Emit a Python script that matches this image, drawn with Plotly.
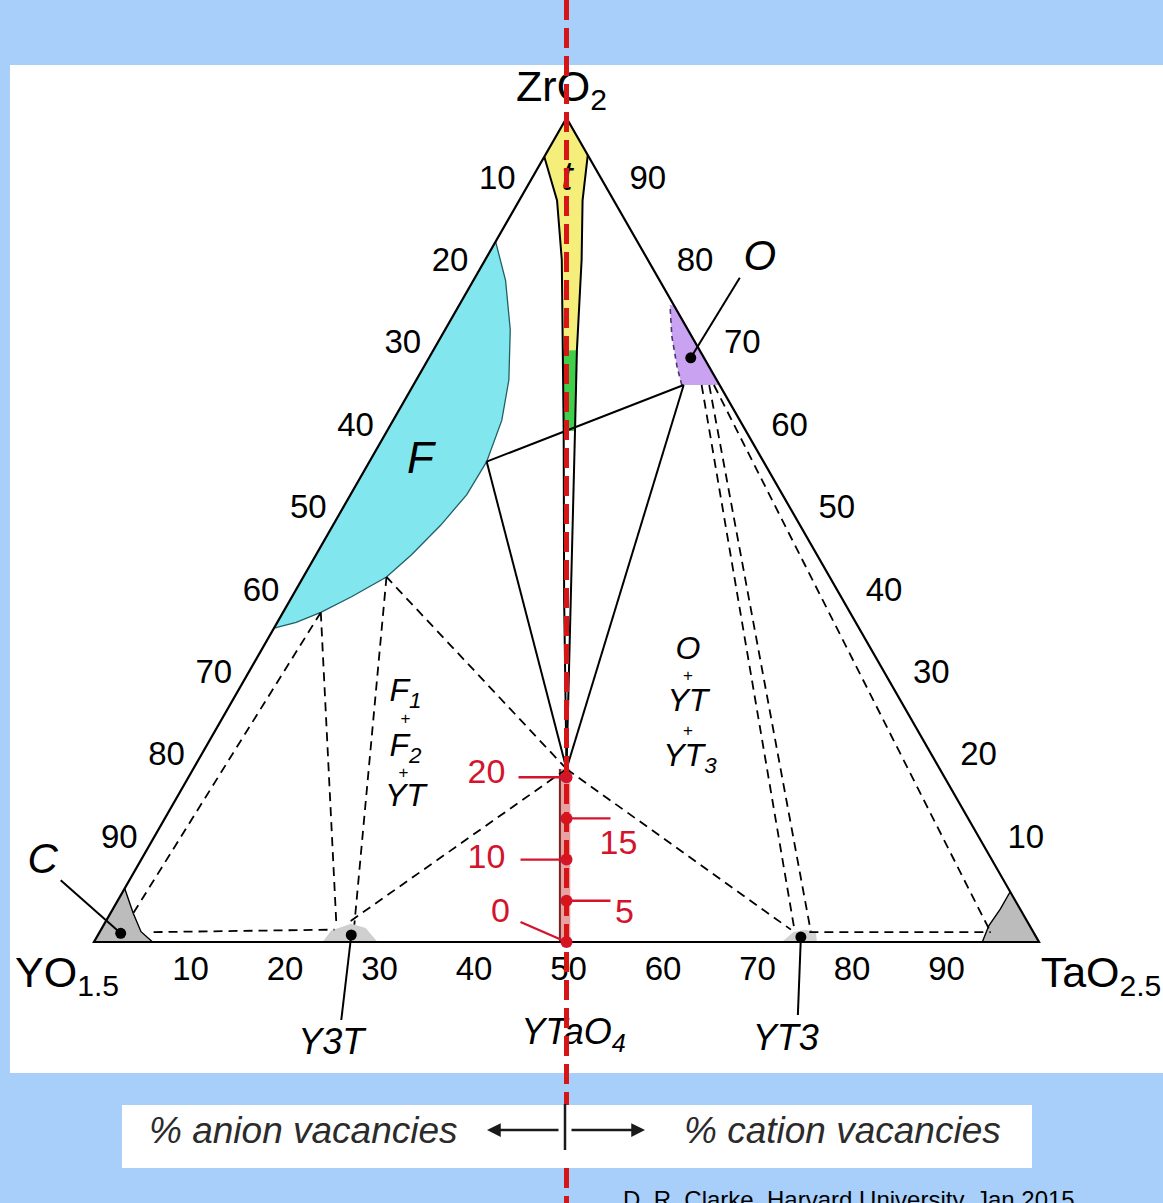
import plotly.graph_objects as go

FONT = "Liberation Sans, Arial, sans-serif"

# ---------------------------------------------------------------- frame
W, H = 1163, 1203
PX_X, PX_Y = 9.45, 8.24          # pixels per mol% along the base / per mol% ZrO2 upward
X0_PX, Y0_PX = 94.0, 942.0       # pixel position of the YO1.5 corner
X_RANGE = [-X0_PX / PX_X, (W - X0_PX) / PX_X]
Y_RANGE = [-(H - Y0_PX) / PX_Y, Y0_PX / PX_Y]
BOX_TOP_PX, BOX_BOTTOM_PX = 1105, 1168   # legend strip below the diagram

# ---------------------------------------------------------------- data
# compositions are (mol% ZrO2, mol% TaO2.5); YO1.5 is the balance
TICKS = [10, 20, 30, 40, 50, 60, 70, 80, 90]
VACANCY_PCT = [0, 5, 10, 15, 20]

# fluorite (F) single-phase field, boundary from the ZrO2-rich tip down
F_ZR = [85.0, 80.3, 74.3, 68.2, 63.3, 58.3, 54.3, 50.6, 47.0, 44.3, 41.9, 40.0, 38.8, 38.1]
F_TA = [0.0, 3.4, 6.9, 9.8, 11.5, 12.4, 12.3, 11.4, 10.1, 8.8, 6.3, 4.0, 2.0, 0.0]

# tetragonal (t) band along the ZrO2 - YTaO4 join
T_LEFT_ZR = [95.3, 90.0, 82.8, 71.8, 62.0, 41.5, 21.0]
T_LEFT_TA = [0.0, 4.0, 8.1, 13.7, 18.7, 29.0, 39.5]
T_RIGHT_ZR = [95.5, 90.0, 82.8, 71.8, 62.0, 41.5, 21.0]
T_RIGHT_TA = [4.5, 6.7, 10.2, 15.2, 19.9, 29.7, 39.5]

# YTaO4 solid solution (0-20 % vacancies)
YTAO4_ZR = [21.0, 0.0, 0.0, 21.0]
YTAO4_TA = [38.8, 49.3, 50.4, 39.9]

# orthorhombic (O) field next to the ZrO2-TaO2.5 edge
O_ZR = [77.3, 67.6, 67.6, 69.8, 73.5, 77.3]
O_TA = [22.7, 32.4, 28.4, 26.8, 24.4, 22.3]

# corner / line-compound fields
C_ZR = [0.0, 6.5, 3.5, 1.25, 0.0]
C_TA = [0.0, 0.0, 2.4, 4.35, 6.2]
TAC_ZR = [0.0, 6.1, 4.0, 2.0, 0.0]
TAC_TA = [100.0, 93.9, 93.9, 93.7, 94.0]
Y3T_ZR = [0.0, 1.4, 2.2, 1.7, 0.0]
Y3T_TA = [24.2, 24.4, 26.1, 27.9, 30.0]
YT3_ZR = [0.0, 1.2, 1.5, 1.2, 0.0]
YT3_TA = [72.8, 73.4, 74.5, 75.8, 76.5]

# phase markers
C_DOT = (1.05, 2.3)
Y3T_DOT = (0.85, 26.8)
YT3_DOT = (0.6, 74.5)
O_DOT = (70.9, 27.7)
YTAO4 = (0.0, 50.0)

# invariant points and tie lines
P20 = (21.0, 39.5)
F_A = (58.3, 12.4)
F_B = (44.3, 8.8)
F_C = (40.0, 4.0)
O_A = (67.6, 28.6)

SOLID_TIES = [(F_A, O_A), (F_A, P20), (O_A, P20)]
DASHED_TIES = [
    (P20, F_B),
    (P20, (2.3, 25.7)),
    (P20, (1.5, 73.0)),
    (F_C, (3.3, 2.4)),
    (F_C, (2.1, 24.6)),
    (F_B, (2.1, 26.5)),
    ((1.2, 5.7), (1.5, 24.7)),
    ((1.2, 75.1), (1.2, 94.3)),
    ((67.6, 30.5), (1.3, 73.5)),
    ((67.6, 31.3), (1.3, 75.2)),
    ((67.6, 31.8), (1.6, 93.9)),
]

# label compositions
F_LABEL = (58.3, 5.4)
T_LABEL = (92.7, 3.7)
F_GROUP = (23.9, 21.0)
O_GROUP = (29.1, 48.3)

# ---------------------------------------------------------------- helpers
fig = go.Figure()


def xy(zr, ta):
    return ta + zr / 2.0, zr


def at(comp, dx=0.0, dy=0.0):
    """Cartesian point of a composition, nudged by a screen offset in px."""
    x, y = xy(*comp)
    return x + dx / PX_X, y - dy / PX_Y


def y_of_px(yp):
    return (Y0_PX - yp) / PX_Y


def poly(zrs, tas):
    pts = [xy(z, t) for z, t in zip(zrs, tas)]
    return [p[0] for p in pts], [p[1] for p in pts]


def add_path(xs, ys, color="black", width=2.0, dash="solid", fill=None, fillcolor=None):
    fig.add_trace(go.Scatter(
        x=xs, y=ys, mode="lines",
        line=dict(color=color, width=width, dash=dash),
        fill=fill, fillcolor=fillcolor,
        hoverinfo="skip", showlegend=False))


def add_area(zrs, tas, fillcolor):
    xs, ys = poly(zrs, tas)
    fig.add_trace(go.Scatter(
        x=xs + xs[:1], y=ys + ys[:1], mode="lines", line=dict(width=0),
        fill="toself", fillcolor=fillcolor, hoverinfo="skip", showlegend=False))


def add_text(pos, text, size, color="black"):
    fig.add_trace(go.Scatter(
        x=[pos[0]], y=[pos[1]], mode="text", text=[text],
        textposition="middle center",
        textfont=dict(family=FONT, size=size, color=color),
        hoverinfo="skip", showlegend=False, cliponaxis=False))


def add_dots(comps, color, size):
    xs, ys = zip(*[xy(*c) for c in comps])
    fig.add_trace(go.Scatter(
        x=list(xs), y=list(ys), mode="markers",
        marker=dict(color=color, size=size, line=dict(width=0)),
        hoverinfo="skip", showlegend=False))


def add_leader(comp, dx, dy, color="black", width=2.0):
    x0, y0 = xy(*comp)
    x1, y1 = at(comp, dx, dy)
    add_path([x0, x1], [y0, y1], color=color, width=width)


# ---------------------------------------------------------------- phase fields
add_area(F_ZR + [85.0], F_TA + [0.0], "#82e6ee")
xs, ys = poly(F_ZR, F_TA)
add_path(xs, ys, color="#1f5f66", width=1.3)

yel_zr = [100.0] + T_RIGHT_ZR[0:4] + T_LEFT_ZR[3::-1]
yel_ta = [0.0] + T_RIGHT_TA[0:4] + T_LEFT_TA[3::-1]
add_area(yel_zr, yel_ta, "#f5ee7a")
grn_zr = T_RIGHT_ZR[3:5] + T_LEFT_ZR[4:2:-1]
grn_ta = T_RIGHT_TA[3:5] + T_LEFT_TA[4:2:-1]
add_area(grn_zr, grn_ta, "#3fcf4a")

add_area(YTAO4_ZR, YTAO4_TA, "#e8a2a2")
xs, ys = poly(YTAO4_ZR[:2], YTAO4_TA[:2])
add_path(xs, ys, color="#7a2020", width=2)

add_area(O_ZR, O_TA, "#c9a2f2")
xs, ys = poly(O_ZR[2:], O_TA[2:])
add_path(xs, ys, color="#4d3570", width=1.6, dash="5px,4px")

add_area(C_ZR, C_TA, "#bcbcbc")
xs, ys = poly(C_ZR[1:], C_TA[1:])
add_path(xs, ys, width=1.4)
add_area(TAC_ZR, TAC_TA, "#bcbcbc")
xs, ys = poly(TAC_ZR[1:], TAC_TA[1:])
add_path(xs, ys, width=1.4)
add_area(Y3T_ZR, Y3T_TA, "#cfcfcf")
add_area(YT3_ZR, YT3_TA, "#d3d3d3")

# ---------------------------------------------------------------- lines
for a, b in DASHED_TIES:
    xs, ys = poly([a[0], b[0]], [a[1], b[1]])
    add_path(xs, ys, width=1.8, dash="9px,6px")
for a, b in SOLID_TIES:
    xs, ys = poly([a[0], b[0]], [a[1], b[1]])
    add_path(xs, ys, width=2)

xs, ys = poly(T_LEFT_ZR, T_LEFT_TA)
add_path(xs, ys, width=2)
xs, ys = poly(T_RIGHT_ZR, T_RIGHT_TA)
add_path(xs, ys, width=2)

# triangle
xs, ys = poly([100, 0, 0, 100], [0, 0, 100, 0])
add_path(xs, ys, width=2.2)

# pointers to the named compounds
add_leader(O_DOT, 49, -80)
add_leader(C_DOT, -60, -53)
add_leader(Y3T_DOT, -10, 85)
add_leader(YT3_DOT, -3, 78)

add_dots([C_DOT, Y3T_DOT, YT3_DOT, O_DOT], "black", 11)

# ---------------------------------------------------------------- tick labels
for t in TICKS:
    add_text(at((0, t), 2, 30), str(t), 33)              # TaO2.5 along the base
    add_text(at((100 - t, 0), -22, -20), str(t), 33)     # YO1.5 on the left edge
    add_text(at((t, 100 - t), 34, -20), str(t), 33)      # ZrO2 on the right edge

# corner labels
add_text(at((100, 0), -5, -28), "ZrO<sub>2</sub>", 43)
add_text(at((0, 0), -27, 34), "YO<sub>1.5</sub>", 43)
add_text(at((0, 100), 62, 34), "TaO<sub>2.5</sub>", 43)

# phase labels
add_text(at(F_LABEL), "<i>F</i>", 44)
add_text(at(T_LABEL, 0, 2), "<i>t</i>", 40)
add_text(at(O_DOT, 69, -98), "<i>O</i>", 42)
add_text(at(C_DOT, -78, -71), "<i>C</i>", 42)
add_text(at(Y3T_DOT, -20, 110), "<i>Y3T</i>", 36)
add_text(at(YT3_DOT, -15, 104), "<i>YT3</i>", 36)
add_text(at(YTAO4, 7, 93), "<i>YTaO<sub>4</sub></i>", 36)

add_text(at(F_GROUP, 0, -52), "<i>F<sub>1</sub></i>", 32)
add_text(at(F_GROUP, 0, -25), "+", 17)
add_text(at(F_GROUP, 0, 3), "<i>F<sub>2</sub></i>", 32)
add_text(at(F_GROUP, -2, 29), "+", 17)
add_text(at(F_GROUP, 0, 53), "<i>YT</i>", 32)

add_text(at(O_GROUP, 0, -51), "<i>O</i>", 32)
add_text(at(O_GROUP, 0, -25), "+", 17)
add_text(at(O_GROUP, 0, 1), "<i>YT</i>", 32)
add_text(at(O_GROUP, 0, 30), "+", 17)
add_text(at(O_GROUP, 2, 56), "<i>YT<sub>3</sub></i>", 32)

# ---------------------------------------------------------------- vacancy scale on the join
RED = "#d3142c"
vac_pts = [(v, (100 - v) / 2.0) for v in VACANCY_PCT]
label_offsets = {0: (-66, -29), 5: (58, 14), 10: (-80, 0), 15: (52, 27), 20: (-80, -3)}
leader_offsets = {0: (-46, -20), 5: (44, 0), 10: (-46, 0), 15: (44, 0), 20: (-48, 0)}
for v, comp in zip(VACANCY_PCT, vac_pts):
    add_leader(comp, *leader_offsets[v], color=RED, width=2.4)
    add_text(at(comp, *label_offsets[v]), str(v), 34, RED)
add_dots(vac_pts, RED, 12)

# ---------------------------------------------------------------- YTaO4 reference line
# runs the full height, interrupted by the legend strip
x_join = xy(*YTAO4)[0]
add_path([x_join, x_join], [Y_RANGE[1], y_of_px(BOX_TOP_PX)],
         color="#d61616", width=5, dash="20px,8px")
add_path([x_join, x_join], [y_of_px(BOX_BOTTOM_PX), Y_RANGE[0]],
         color="#d61616", width=5, dash="20px,8px")


# ---------------------------------------------------------------- layout
def px(xp):
    return xp / W


def py(yp):
    return 1 - yp / H


fig.update_layout(
    width=W, height=H,
    margin=dict(l=0, r=0, t=0, b=0, pad=0),
    paper_bgcolor="#a8cff9", plot_bgcolor="rgba(0,0,0,0)",
    xaxis=dict(range=X_RANGE, visible=False, fixedrange=True, domain=[0, 1]),
    yaxis=dict(range=Y_RANGE, visible=False, fixedrange=True, domain=[0, 1]),
    showlegend=False,
    shapes=[
        dict(type="rect", xref="paper", yref="paper", layer="below",
             x0=px(10), x1=1.0, y0=py(1073), y1=py(65),
             fillcolor="white", line=dict(width=0)),
        dict(type="rect", xref="paper", yref="paper", layer="below",
             x0=px(122), x1=px(1032), y0=py(BOX_BOTTOM_PX), y1=py(BOX_TOP_PX),
             fillcolor="white", line=dict(width=0)),
        dict(type="line", xref="paper", yref="paper", layer="above",
             x0=px(565), x1=px(565), y0=py(1150), y1=py(1104),
             line=dict(color="#1a1a1a", width=2.5)),
    ],
    annotations=[
        dict(xref="paper", yref="paper", x=px(303), y=py(1130),
             xanchor="center", yanchor="middle", showarrow=False,
             text="<i>% anion vacancies</i>",
             font=dict(family=FONT, size=37, color="#2b2b2b")),
        dict(xref="paper", yref="paper", x=px(843), y=py(1130),
             xanchor="center", yanchor="middle", showarrow=False,
             text="<i>% cation vacancies</i>",
             font=dict(family=FONT, size=37, color="#2b2b2b")),
        dict(xref="paper", yref="paper", x=px(487), y=py(1130), ax=73, ay=0,
             text="", showarrow=True, arrowhead=2, arrowsize=1.1,
             arrowwidth=2.5, arrowcolor="#1a1a1a"),
        dict(xref="paper", yref="paper", x=px(645), y=py(1130), ax=-75, ay=0,
             text="", showarrow=True, arrowhead=2, arrowsize=1.1,
             arrowwidth=2.5, arrowcolor="#1a1a1a"),
        dict(xref="paper", yref="paper", x=px(621), y=py(1184),
             xanchor="left", yanchor="top", showarrow=False,
             text="D. R. Clarke, Harvard University, Jan 2015",
             font=dict(family=FONT, size=24, color="black")),
    ],
)

fig.write_html("out.html")
